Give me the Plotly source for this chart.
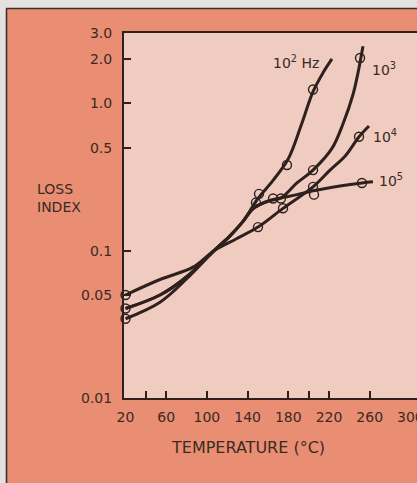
import math
import plotly.graph_objects as go

# ---------------- data ----------------
t_1e2 = [20, 53.9, 80.4, 107.0, 122.7, 135.5, 150.0, 165.0, 180.0, 193.0, 204.3, 214.1, 222.9]
v_1e2 = [0.0345, 0.0447, 0.0647, 0.10, 0.126, 0.158, 0.225, 0.30, 0.42, 0.72, 1.20, 1.61, 2.0]

t_1e3 = [20, 53.9, 80.4, 107.0, 122.7, 135.5, 144.3, 150.2, 162.0, 172.8, 188.5, 204.3, 222.9, 233.7, 243.6, 248.5, 253.4]
v_1e3 = [0.0405, 0.050, 0.0668, 0.10, 0.126, 0.158, 0.19, 0.203, 0.219, 0.228, 0.288, 0.352, 0.494, 0.724, 1.148, 1.61, 2.44]

t_1e4 = [20, 53.9, 86.3, 107.0, 128.6, 150.2, 174.8, 204.3, 221.0, 235.7, 249.5, 259.3]
v_1e4 = [0.050, 0.0637, 0.0773, 0.10, 0.12, 0.1445, 0.1936, 0.271, 0.352, 0.437, 0.593, 0.702]

t_1e5 = [20, 53.9, 80.4, 107.0, 122.7, 135.5, 144.3, 150.2, 162.0, 172.8, 188.5, 204.3, 230.8, 252.4, 263.2]
v_1e5 = [0.0405, 0.050, 0.0668, 0.10, 0.126, 0.158, 0.19, 0.203, 0.219, 0.228, 0.24, 0.255, 0.275, 0.288, 0.293]

pts_t = [20, 20, 20, 148.2, 150.2, 151.2, 165.0, 172.8, 174.8, 178.7, 204.3, 204.3, 205.3, 204.3, 252.4, 249.5, 250.5]
pts_v = [0.05, 0.0405, 0.0345, 0.212, 0.1445, 0.243, 0.226, 0.226, 0.194, 0.381, 0.352, 0.271, 0.24, 1.24, 0.288, 0.593, 2.03]

series_names = ["10<sup>2</sup> Hz", "10<sup>3</sup>", "10<sup>4</sup>", "10<sup>5</sup>"]
label_t = [187.6, 274.1, 275.0, 281.0]
label_v = [1.905, 1.71, 0.60, 0.30]

x_label_vals = [20, 60, 100, 140, 180, 220, 260, 300]
x_tick_marks = [40, 60, 100, 140, 180, 200, 220, 260]
y_tick_vals = [0.01, 0.05, 0.1, 0.5, 1.0, 2.0, 3.0]
y_tick_text = ["0.01", "0.05", "0.1", "0.5", "1.0", "2.0", "3.0"]

x_range = [18.5, 306.5]
y_range = [0.01, 3.0]

# ---------------- style ----------------
INK = "#2e211d"
TXT = "#3a2a24"
SALMON = "#e98e72"
PINK = "#efcbc0"
FONT = "DejaVu Sans"

W, H = 417, 483
ML, MR, MT, MB = 124, 0, 33, 85
PW, PH = W - ML - MR, H - MT - MB


def px(xp):
    return (xp - ML) / PW


def py(yp):
    return (H - MB - yp) / PH


fig = go.Figure()
for t, v in [(t_1e2, v_1e2), (t_1e3, v_1e3), (t_1e4, v_1e4), (t_1e5, v_1e5)]:
    fig.add_trace(go.Scatter(x=t, y=v, mode="lines",
                             line=dict(color=INK, width=3, shape="spline", smoothing=1.0),
                             hoverinfo="skip", showlegend=False))

fig.add_trace(go.Scatter(x=pts_t, y=pts_v, mode="markers", xaxis="x2",
                         marker=dict(symbol="circle-open", size=9, color=INK, line=dict(width=1.4, color=INK)),
                         cliponaxis=False, hoverinfo="skip", showlegend=False))

for name, lt, lv in zip(series_names, label_t, label_v):
    fig.add_annotation(x=lt, y=math.log10(lv), xref="x", yref="y", text=name, showarrow=False,
                       font=dict(family=FONT, size=14, color=TXT), xanchor="center", yanchor="middle")

fig.add_annotation(x=px(248), y=py(447), xref="paper", yref="paper", text="TEMPERATURE (°C)",
                   showarrow=False, font=dict(family=FONT, size=16, color=TXT),
                   xanchor="center", yanchor="middle")
fig.add_annotation(x=px(35), y=py(198), xref="paper", yref="paper", text="LOSS<br>INDEX",
                   showarrow=False, align="left", font=dict(family=FONT, size=14, color=TXT),
                   xanchor="left", yanchor="middle")

# frame decoration (light margin + dark edge lines)
fig.add_shape(type="rect", xref="paper", yref="paper", x0=px(0), x1=px(W), y0=py(8), y1=py(0),
              fillcolor="#e4e2e0", line=dict(width=0), layer="above")
fig.add_shape(type="rect", xref="paper", yref="paper", x0=px(0), x1=px(6), y0=py(H), y1=py(0),
              fillcolor="#e4e2e0", line=dict(width=0), layer="above")
fig.add_shape(type="line", xref="paper", yref="paper", x0=px(6), x1=px(W), y0=py(8.5), y1=py(8.5),
              line=dict(color="#3b302c", width=1.6), layer="above")
fig.add_shape(type="line", xref="paper", yref="paper", x0=px(6.5), x1=px(6.5), y0=py(H), y1=py(8.5),
              line=dict(color="#3b302c", width=1.6), layer="above")

fig.update_layout(
    width=W, height=H,
    margin=dict(l=ML, r=MR, t=MT, b=MB, pad=0, autoexpand=False),
    paper_bgcolor=SALMON, plot_bgcolor=PINK,
    showlegend=False, hovermode=False,
    font=dict(family=FONT, color=TXT, size=14),
    xaxis=dict(range=x_range, tickmode="array", tickvals=x_label_vals,
               ticktext=[str(v) for v in x_label_vals], ticks="", showgrid=False, zeroline=False,
               showline=True, linewidth=2, linecolor=INK, mirror=True, automargin=False,
               ticklabeloverflow="allow", ticklabelstandoff=5,
               tickfont=dict(family=FONT, size=14, color=TXT)),
    xaxis2=dict(range=x_range, matches="x", overlaying="x", anchor="y", side="bottom",
                tickmode="array", tickvals=x_tick_marks, ticks="inside", ticklen=7, tickwidth=2,
                tickcolor=INK, showticklabels=False, showgrid=False, zeroline=False, showline=False,
                automargin=False),
    yaxis=dict(type="log", range=[math.log10(y_range[0]), math.log10(y_range[1])],
               tickmode="array", tickvals=y_tick_vals, ticktext=y_tick_text,
               ticks="inside", ticklen=7, tickwidth=2, tickcolor=INK, automargin=False,
               showgrid=False, zeroline=False, showline=True, linewidth=2, linecolor=INK,
               ticklabelstandoff=7, tickfont=dict(family=FONT, size=14, color=TXT)),
)

fig.write_html("out.html", config={"displayModeBar": False},
               post_script="document.body.style.margin='0';document.body.style.padding='0';"
                           "document.documentElement.style.overflow='hidden';")
